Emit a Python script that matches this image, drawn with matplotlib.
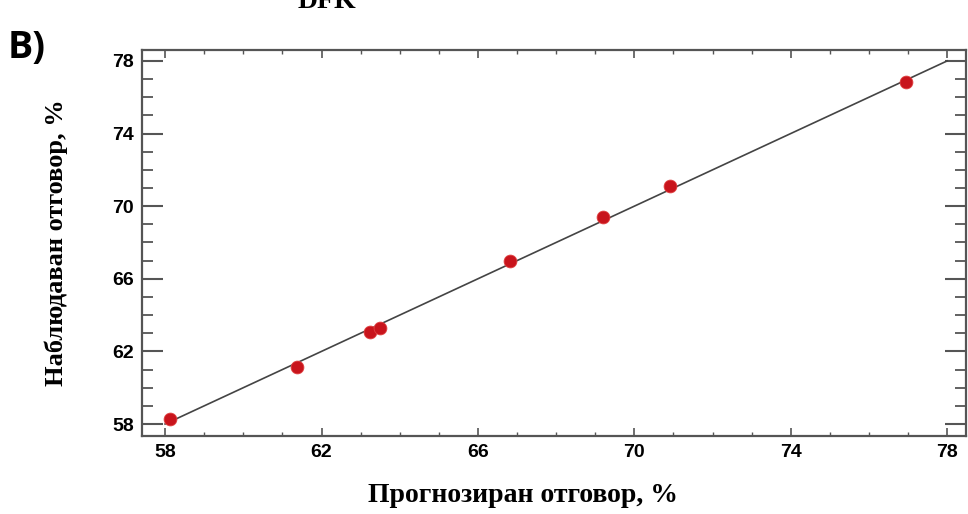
import matplotlib.pyplot as plt
from matplotlib.ticker import MultipleLocator

# Прогнозиран / наблюдаван отговор, %
predicted = [58.13, 61.38, 63.25, 63.5, 66.82, 69.2, 70.9, 76.95]
observed = [58.28, 61.15, 63.08, 63.3, 67.0, 69.42, 71.13, 76.84]
line_x = [58.0, 78.0]
line_y = [58.0, 78.0]
ticks = [58, 62, 66, 70, 74, 78]

fig = plt.figure(figsize=(9.68, 5.14), dpi=100)
ax = fig.add_axes([142 / 968, 1 - 436 / 514, (966 - 142) / 968, (436 - 50) / 514])

ax.plot(line_x, line_y, color='#444444', lw=1.2, zorder=2)
ax.scatter(predicted, observed, s=85, color='#c8141c', edgecolors='#e04040',
           linewidths=0.6, zorder=3)

ax.set_xlim(57.41, 78.48)
ax.set_ylim(57.34, 78.6)
ax.set_xticks(ticks)
ax.set_yticks(ticks)
ax.xaxis.set_minor_locator(MultipleLocator(1))
ax.yaxis.set_minor_locator(MultipleLocator(1))

ax.tick_params(axis='y', which='major', direction='in', length=15, width=1.5,
               left=True, right=True, color='#555555')
ax.tick_params(axis='y', which='minor', direction='in', length=8, width=1.3,
               left=True, right=True, color='#555555')
ax.tick_params(axis='x', which='major', direction='in', length=6, width=1.2,
               top=True, bottom=True, color='#555555')
ax.tick_params(axis='x', which='minor', direction='in', length=3, width=1.0,
               top=True, bottom=True, color='#555555')
ax.tick_params(axis='both', which='major', labelsize=14, pad=6)

for lbl in ax.get_xticklabels() + ax.get_yticklabels():
    lbl.set_fontfamily('Liberation Sans')
    lbl.set_fontweight('bold')

for sp in ax.spines.values():
    sp.set_color('#555555')
    sp.set_linewidth(1.6)

# подписи на осите
fig.text(523 / 968, 1 - 502 / 514, 'Прогнозиран отговор, %',
         fontfamily='Liberation Serif', fontweight='bold', fontsize=20,
         ha='center', va='baseline')
fig.text(56 / 968, 1 - 243 / 514, 'Наблюдаван отговор, %',
         fontfamily='Liberation Serif', fontweight='bold', fontsize=19,
         ha='center', va='center', rotation=90)

fig.text(327 / 968, 1 - 8 / 514, 'DFK', fontfamily='Liberation Serif',
         fontweight='bold', fontsize=20, ha='center', va='baseline')
fig.text(8 / 968, 1 - 58 / 514, 'B)', fontfamily='Open Sans',
         fontweight='bold', fontsize=27, ha='left', va='baseline')

fig.savefig('out.png', dpi=100)
